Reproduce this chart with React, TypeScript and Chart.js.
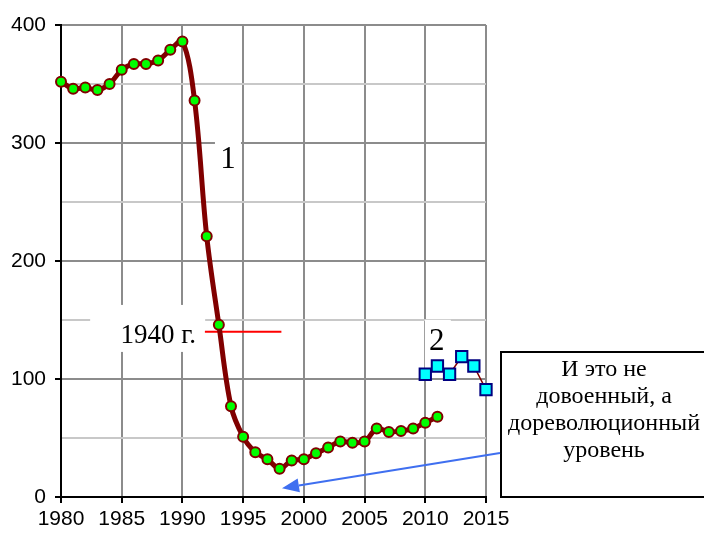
import React, { useEffect, useRef } from "react";
import { Chart, registerables } from "chart.js";
Chart.register(...registerables);

const years1 = [1980, 1981, 1982, 1983, 1984, 1985, 1986, 1987, 1988, 1989, 1990, 1991, 1992, 1993, 1994, 1995, 1996, 1997, 1998, 1999, 2000, 2001, 2002, 2003, 2004, 2005, 2006, 2007, 2008, 2009, 2010, 2011];
const values1 = [352, 346, 347, 345, 350, 362, 367, 367, 370, 379, 386, 336, 221, 146, 77, 51, 38, 32, 24, 31, 32, 37, 42, 47, 46, 47, 58, 55, 56, 58, 63, 68];
const years2 = [2010, 2011, 2012, 2013, 2014, 2015];
const values2 = [104, 111, 104, 119, 111, 91];

const xTickStep = 5;
const yMajorStep = 100;
const yMinorStep = 50;

const level1940 = 140;
const level1940From = 1991.85;
const level1940To = 1998.15;

const boxLines = ["И это не", "довоенный, а", "дореволюционный", "уровень"];

// label: text, anchor in data units, font size, white box offsets (px) [left, top, right, bottom]
const labels = [
  { text: "1", x: 1993.75, y: 285.5, size: 31, box: [-13, -31, 13, 31] },
  { text: "1940 г.", x: 1988, y: 136.5, size: 27, box: [-68, -31, 47, 16] },
  { text: "2", x: 2010.95, y: 131.5, size: 31, box: [-12, -22, 14, 28] },
];

const serif = "'Liberation Serif', 'Times New Roman', serif";
const sans = "'Liberation Sans', Arial, sans-serif";

export default function App() {
  const ref = useRef<HTMLCanvasElement>(null);

  useEffect(() => {
    const annot = {
      id: "annot",
      beforeDatasetsDraw(chart: any) {
        const { ctx, scales } = chart;
        const x = scales.x, y = scales.y;
        ctx.save();
        for (const l of labels) {
          const px = x.getPixelForValue(l.x);
          const py = y.getPixelForValue(l.y);
          ctx.fillStyle = "#fff";
          ctx.fillRect(px + l.box[0], py + l.box[1], l.box[2] - l.box[0], l.box[3] - l.box[1]);
          ctx.fillStyle = "#000";
          ctx.font = `${l.size}px ${serif}`;
          ctx.textAlign = "center";
          ctx.textBaseline = "middle";
          ctx.fillText(l.text, px, py);
        }
        ctx.strokeStyle = "#ff0000";
        ctx.lineWidth = 2;
        ctx.beginPath();
        const ly = y.getPixelForValue(level1940);
        ctx.moveTo(x.getPixelForValue(level1940From), ly);
        ctx.lineTo(x.getPixelForValue(level1940To), ly);
        ctx.stroke();
        ctx.restore();
      },
      afterDraw(chart: any) {
        const { ctx, scales } = chart;
        const x = scales.x, y = scales.y;
        ctx.save();
        // callout box
        const bx = 501, by = 352, bw = 210, bh = 145;
        ctx.fillStyle = "#fff";
        ctx.fillRect(bx, by, bw, bh);
        ctx.strokeStyle = "#000";
        ctx.lineWidth = 2;
        ctx.strokeRect(bx, by, bw, bh);
        ctx.fillStyle = "#000";
        ctx.font = `24px ${serif}`;
        ctx.textAlign = "center";
        ctx.textBaseline = "alphabetic";
        boxLines.forEach((t, i) => ctx.fillText(t, 604, 376 + i * 27));
        // arrow
        const sx = bx - 1, sy = 453;
        const tx = x.getPixelForValue(1998.2), ty = y.getPixelForValue(7.5);
        const ang = Math.atan2(ty - sy, tx - sx);
        const hl = 17, hw = 7;
        const baseX = tx - Math.cos(ang) * hl, baseY = ty - Math.sin(ang) * hl;
        ctx.strokeStyle = "#3f6ff0";
        ctx.fillStyle = "#3f6ff0";
        ctx.lineWidth = 2;
        ctx.beginPath();
        ctx.moveTo(sx, sy);
        ctx.lineTo(baseX, baseY);
        ctx.stroke();
        ctx.beginPath();
        ctx.moveTo(tx, ty);
        ctx.lineTo(baseX + Math.sin(ang) * hw, baseY - Math.cos(ang) * hw);
        ctx.lineTo(baseX - Math.sin(ang) * hw, baseY + Math.cos(ang) * hw);
        ctx.closePath();
        ctx.fill();
        ctx.restore();
      },
    };

    const chart = new Chart(ref.current as HTMLCanvasElement, {
      type: "line",
      data: {
        datasets: [
          {
            label: "1",
            data: years1.map((yr, i) => ({ x: yr, y: values1[i] })),
            borderColor: "#800000",
            borderWidth: 5,
            tension: 0.35,
            pointRadius: 5,
            pointBackgroundColor: "#00ff00",
            pointBorderColor: "#800000",
            pointBorderWidth: 2,
            clip: false as any,
          },
          {
            label: "2",
            data: years2.map((yr, i) => ({ x: yr, y: values2[i] })),
            borderColor: "#800000",
            borderWidth: 1.5,
            tension: 0,
            pointStyle: "rect",
            pointRadius: 8,
            pointBackgroundColor: "#00ffff",
            pointBorderColor: "#000080",
            pointBorderWidth: 2,
            clip: false as any,
          },
        ],
      },
      options: {
        responsive: false,
        animation: false,
        devicePixelRatio: 1,
        layout: { padding: { top: 25, right: 218, left: 0, bottom: 0 } },
        plugins: { legend: { display: false }, tooltip: { enabled: false } },
        scales: {
          x: {
            type: "linear",
            min: 1980,
            max: 2015,
            ticks: {
              stepSize: xTickStep,
              color: "#000",
              font: { family: sans, size: 21 },
              padding: 4,
              maxRotation: 0,
              callback: (v: any) => String(v),
            },
            grid: { color: "#8c8c8c", lineWidth: 2, tickColor: "#000", tickLength: 6 },
            border: { color: "#000", width: 2 },
            afterFit: (s: any) => { s.height = 36; },
          },
          y: {
            min: 0,
            max: 400,
            ticks: {
              stepSize: yMinorStep,
              color: "#000",
              font: { family: sans, size: 21 },
              padding: 9,
              callback: (v: any) => (v % yMajorStep === 0 ? String(v) : ""),
            },
            grid: {
              color: (c: any) => (c.tick && c.tick.value % yMajorStep === 0 ? "#8c8c8c" : "#c8c8c8"),
              tickColor: (c: any) => (c.tick && c.tick.value % yMajorStep === 0 ? "#000" : "rgba(0,0,0,0)"),
              lineWidth: 2,
              tickLength: 6,
            },
            border: { color: "#000", width: 2 },
            afterFit: (s: any) => { s.width = 61; },
          },
        },
      },
      plugins: [annot],
    });
    return () => chart.destroy();
  }, []);

  return (
    <div style={{ position: "fixed", left: 0, top: 0, width: 704, height: 533, background: "#fff" }}>
      <canvas ref={ref} width={704} height={533} style={{ display: "block" }} />
    </div>
  );
}
